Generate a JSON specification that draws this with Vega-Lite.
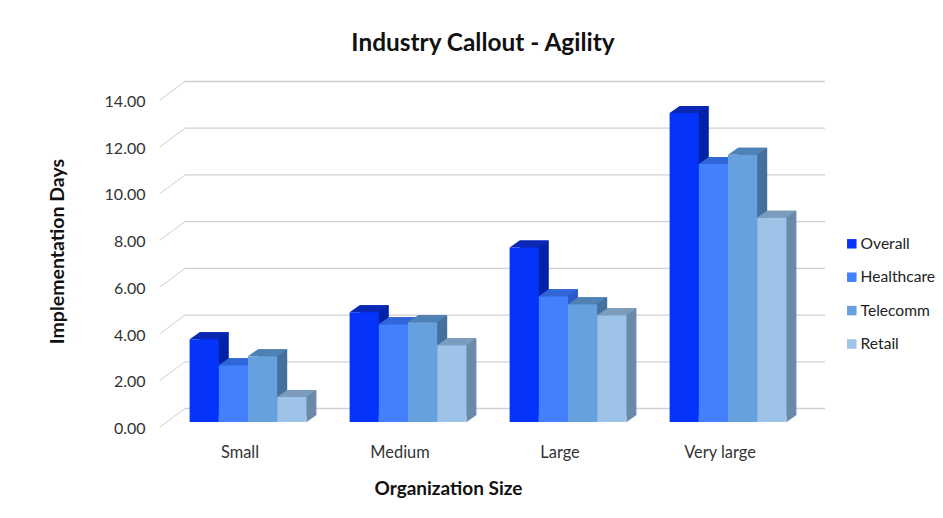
{"$schema":"https://vega.github.io/schema/vega-lite/v6.json","width":640,"height":327,"autosize":"none","padding":{"left":160,"top":100,"right":143,"bottom":91},"background":"white","title":{"text":"Industry Callout - Agility","font":"Lato","fontSize":24.4,"fontWeight":"bold","color":"#111","anchor":"middle","dx":3,"offset":23},"config":{"view":{"stroke":null},"font":"Lato"},"datasets":{"bars":[{"size":"Small","series":"Overall","days":3.54},{"size":"Small","series":"Healthcare","days":2.43},{"size":"Small","series":"Telecomm","days":2.82},{"size":"Small","series":"Retail","days":1.07},{"size":"Medium","series":"Overall","days":4.7},{"size":"Medium","series":"Healthcare","days":4.18},{"size":"Medium","series":"Telecomm","days":4.27},{"size":"Medium","series":"Retail","days":3.29},{"size":"Large","series":"Overall","days":7.47},{"size":"Large","series":"Healthcare","days":5.38},{"size":"Large","series":"Telecomm","days":5.04},{"size":"Large","series":"Retail","days":4.57},{"size":"Very large","series":"Overall","days":13.23},{"size":"Very large","series":"Healthcare","days":11.05},{"size":"Very large","series":"Telecomm","days":11.44},{"size":"Very large","series":"Retail","days":8.75}],"ticks":[{"tick":0},{"tick":2},{"tick":4},{"tick":6},{"tick":8},{"tick":10},{"tick":12},{"tick":14}]},"data":{"name":"bars"},"encoding":{"y":{"field":"days","type":"quantitative","scale":{"domain":[0,14],"nice":false},"axis":{"values":[0,2,4,6,8,10,12,14],"format":".2f","grid":false,"domain":false,"ticks":false,"labelFont":"Lato","labelFontSize":16,"labelColor":"#333","labelPadding":15,"labelOffset":1.5,"title":"Implementation Days","titleFont":"Lato","titleFontSize":19.5,"titleFontWeight":"bold","titleColor":"#111","titleX":-93,"titleY":151}}},"layer":[{"data":{"name":"ticks"},"mark":{"type":"point","shape":"M0 0L2 -1.48","size":625,"filled":false,"stroke":"#cfcfcf","strokeWidth":1,"opacity":1},"encoding":{"x":{"datum":"Small","type":"nominal","bandPosition":0,"axis":null,"scale":{"type":"band","domain":["Small","Medium","Large","Very large"],"paddingInner":0,"paddingOuter":0}},"y":{"field":"tick","type":"quantitative"}}},{"data":{"name":"ticks"},"mark":{"type":"point","shape":"M2 -1.48L53.2 -1.48","size":625,"filled":false,"stroke":"#cfcfcf","strokeWidth":1.3,"opacity":1},"encoding":{"x":{"datum":"Small","type":"nominal","bandPosition":0,"axis":null,"scale":{"type":"band","domain":["Small","Medium","Large","Very large"],"paddingInner":0,"paddingOuter":0}},"y":{"field":"tick","type":"quantitative"}}},{"mark":{"type":"bar","yOffset":-12,"y2Offset":-12},"encoding":{"x":{"field":"size","type":"nominal","axis":null,"scale":{"domain":["Small","Medium","Large","Very large"],"paddingInner":0.27,"paddingOuter":0.135,"range":[18,658]}},"xOffset":{"field":"series","type":"nominal","sort":["Overall","Healthcare","Telecomm","Retail"]},"color":{"field":"series","type":"nominal","sort":["Overall","Healthcare","Telecomm","Retail"],"legend":null,"scale":{"domain":["Overall","Healthcare","Telecomm","Retail"],"range":["#0023a8","#2a5cc8","#44709e","#6c8aa8"]}}}},{"mark":{"type":"point","shape":"M1.46 0.02L2.46 -0.7L1.46 -0.7Z","size":400,"filled":true,"opacity":1,"yOffset":-5},"encoding":{"x":{"field":"size","type":"nominal","axis":null,"scale":{"domain":["Small","Medium","Large","Very large"],"paddingInner":0.27,"paddingOuter":0.135,"range":[8,648]}},"xOffset":{"field":"series","type":"nominal","sort":["Overall","Healthcare","Telecomm","Retail"]},"y":{"datum":0,"type":"quantitative"},"color":{"field":"series","type":"nominal","sort":["Overall","Healthcare","Telecomm","Retail"],"legend":null,"scale":{"domain":["Overall","Healthcare","Telecomm","Retail"],"range":["#0023a8","#2a5cc8","#44709e","#6c8aa8"]}}}},{"mark":{"type":"point","shape":"M-1.46 0L1.46 0L2.46 -0.7L-0.46 -0.7Z","size":400,"filled":true,"opacity":1,"yOffset":-5},"encoding":{"x":{"field":"size","type":"nominal","axis":null,"scale":{"domain":["Small","Medium","Large","Very large"],"paddingInner":0.27,"paddingOuter":0.135,"range":[8,648]}},"xOffset":{"field":"series","type":"nominal","sort":["Overall","Healthcare","Telecomm","Retail"]},"color":{"field":"series","type":"nominal","sort":["Overall","Healthcare","Telecomm","Retail"],"legend":null,"scale":{"domain":["Overall","Healthcare","Telecomm","Retail"],"range":["#0a28b4","#3066d8","#4f82b4","#7c9cbe"]}}}},{"mark":{"type":"bar","yOffset":-5,"y2Offset":-5},"encoding":{"x":{"field":"size","type":"nominal","sort":["Small","Medium","Large","Very large"],"scale":{"domain":["Small","Medium","Large","Very large"],"paddingInner":0.27,"paddingOuter":0.135,"range":[8,648]},"axis":{"labelAngle":0,"domain":false,"ticks":false,"labelFont":"Lato","labelFontSize":16.4,"labelColor":"#333","labelPadding":17,"labelOffset":-8,"title":"Organization Size","titleFont":"Lato","titleFontSize":19,"titleFontWeight":"bold","titleColor":"#111","titleX":288,"titleY":52}},"xOffset":{"field":"series","type":"nominal","sort":["Overall","Healthcare","Telecomm","Retail"]},"color":{"field":"series","type":"nominal","sort":["Overall","Healthcare","Telecomm","Retail"],"scale":{"domain":["Overall","Healthcare","Telecomm","Retail"],"range":["#0533fa","#4280fd","#66a0de","#9dc3e8"]},"legend":{"orient":"none","legendX":684,"legendY":136,"title":null,"symbolType":"square","symbolSize":90,"symbolStrokeWidth":0,"labelFont":"Lato","labelFontSize":15.6,"labelColor":"#222","rowPadding":16.4,"labelOffset":1}}}}],"resolve":{"scale":{"color":"independent","x":"independent"}}}
